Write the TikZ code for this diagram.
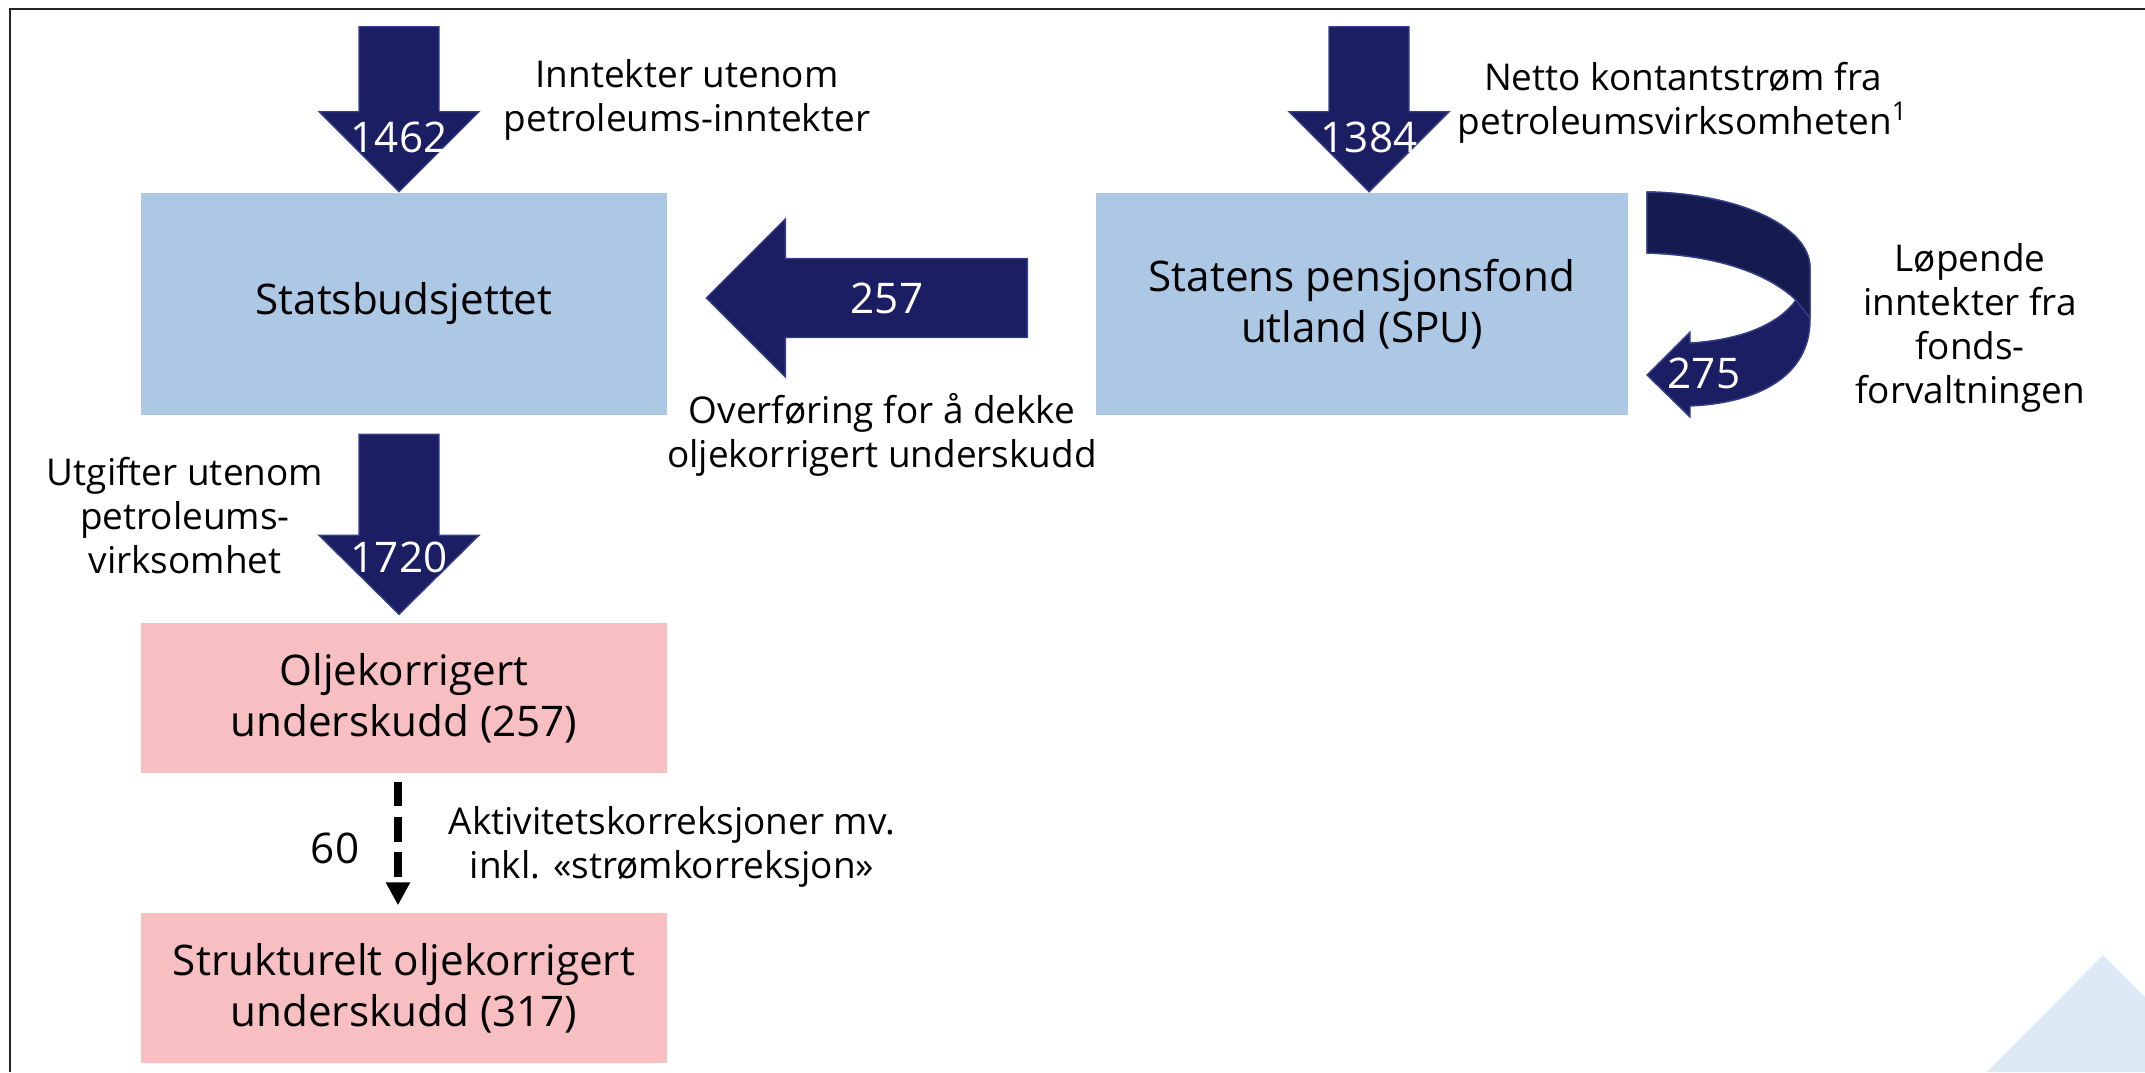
\documentclass[tikz,border=0pt]{standalone}
\usepackage{fontspec}
\setmainfont{Open Sans}
\usetikzlibrary{arrows.meta, calc}
\definecolor{boxblue}{HTML}{ADC8E5}
\definecolor{boxpink}{HTML}{F8BFC3}
\definecolor{navy}{HTML}{1B1E62}
\definecolor{navyedge}{HTML}{34418A}
\definecolor{navydark}{HTML}{151A4F}
\definecolor{cornerblue}{HTML}{DDEAF5}
\newcommand{\boxfont}{\fontsize{12}{14.5}\selectfont}
\newcommand{\labelfont}{\fontsize{10.5}{12.5}\selectfont}

\begin{document}
\begin{tikzpicture}[x=0.01cm, y=-0.01cm,
  >={Triangle[length=6.5pt, width=6.5pt]},
  budgetbox/.style={fill=boxblue, minimum height=2.21cm, align=center, font=\boxfont, inner sep=0pt},
  deficitbox/.style={fill=boxpink, minimum width=5.25cm, minimum height=1.5cm, align=center, font=\boxfont, inner sep=0pt},
  flow/.style={fill=navy, draw=navyedge, line width=0.4pt},
  flownum/.style={text=white, font=\boxfont, inner sep=0pt},
  note/.style={align=center, font=\labelfont, inner sep=0pt}]
\useasboundingbox (0,0) rectangle (2145,1072);
\fill[cornerblue] (1987,1072) -- (2103,955) -- (2145,997) -- (2145,1072) -- cycle;
\draw[black!85, line width=0.5pt] (10,1072) -- (10,9) -- (2145,9);

% boxes
\node[budgetbox, minimum width=5.25cm] (budget) at (404,304) {Statsbudsjettet};
\node[budgetbox, minimum width=5.31cm] (spu) at (1362,304) {Statens pensjonsfond\\utland (SPU)};
\node[deficitbox] (olje) at (404,698) {Oljekorrigert\\underskudd (257)};
\node[deficitbox] (struk) at (404,988) {Strukturelt oljekorrigert\\underskudd (317)};

% inflow to the budget
\coordinate (tipA) at ($(budget.north)+(-5,-1)$);
\draw[flow] (tipA) -- ++(-80,-80) -- ++(40,0) -- ++(0,-85) -- ++(80,0) -- ++(0,85) -- ++(40,0) -- cycle;
\node[flownum] (n1462) at (399,137) {1462};

% inflow to the fund
\coordinate (tipB) at ($(spu.north)+(7,-1)$);
\draw[flow] (tipB) -- ++(-80,-80) -- ++(40,0) -- ++(0,-85) -- ++(80,0) -- ++(0,85) -- ++(40,0) -- cycle;
\node[flownum] (n1384) at (1369,137) {1384};

% spending
\coordinate (tipC) at ($(olje.north)+(-5,-8)$);
\draw[flow] (tipC) -- ++(-80,-79) -- ++(40,0) -- ++(0,-101) -- ++(80,0) -- ++(0,101) -- ++(40,0) -- cycle;
\node[flownum] (n1720) at (399,557) {1720};

% transfer from the fund
\coordinate (tipD) at ($(budget.east)+(39,-6)$);
\draw[flow] (tipD) -- ++(79,-79) -- ++(0,39.5) -- ++(242,0) -- ++(0,79) -- ++(-242,0) -- ++(0,39.5) -- cycle;
\node[flownum] (n257) at (887,298) {257};

% returns of the fund
\draw[flow] (1647,192) .. controls (1735,193) and (1810,225) .. (1810,268) -- (1810,320)
  .. controls (1810,375) and (1760,403) .. (1690,406) -- (1690,417) -- (1647,375) -- (1690,332) -- (1690,343)
  .. controls (1740,340) and (1778,325) .. (1796,300) .. controls (1770,275) and (1720,255) .. (1647,253) -- cycle;
\draw[flow, fill=navydark] (1647,192) .. controls (1735,193) and (1810,225) .. (1810,268) -- (1810,318) -- (1796,300)
  .. controls (1770,275) and (1720,255) .. (1647,253) -- cycle;
\node[flownum] (n275) at (1704,373) {275};

% structural correction
\draw[->, line width=2pt, dash pattern=on 7pt off 3pt] ($(olje.south)+(-6,8)$) -- ($(struk.north)+(-6,-7)$);
\node[flownum, text=black] (n60) at (335,848) {60};

% labels
\node[note] (inntekter) at (687,100) {Inntekter utenom\\petroleums-inntekter};
\node[note] (netto) at (1683,103) {Netto kontantstrøm fra\\petroleumsvirksomheten\textsuperscript{1}};
\node[note] (lopende) at (1970,328) {Løpende\\inntekter fra\\fonds-\\forvaltningen};
\node[note] (overforing) at (882,435) {Overføring for å dekke\\oljekorrigert underskudd};
\node[note] (utgifter) at (185,516) {Utgifter utenom\\petroleums-\\virksomhet};
\node[note] (aktivitet) at (672,847) {Aktivitetskorreksjoner mv.\\inkl. «strømkorreksjon»};
\end{tikzpicture}
\end{document}
